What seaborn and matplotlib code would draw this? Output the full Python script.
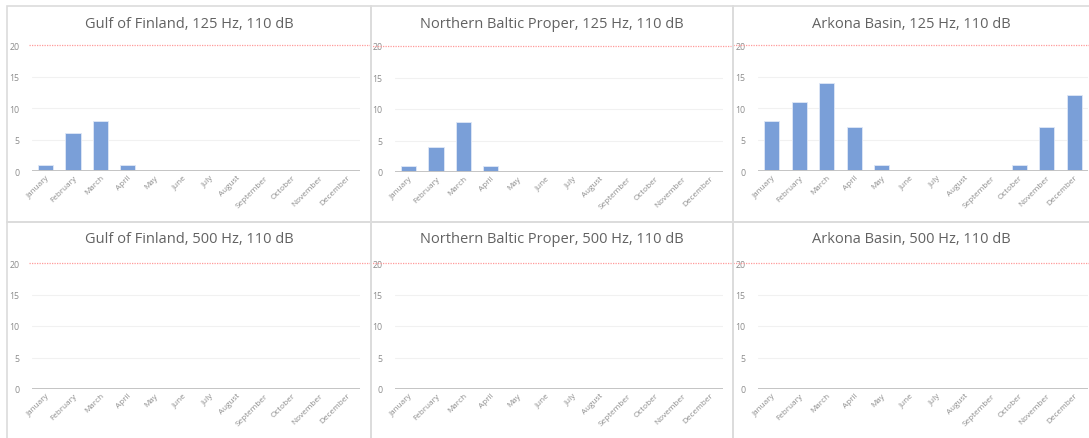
import pandas as pd
import matplotlib
matplotlib.use("Agg")
import matplotlib.pyplot as plt
import matplotlib.transforms as mtransforms
import seaborn as sns

# data
months = ["January", "February", "March", "April", "May", "June", "July",
          "August", "September", "October", "November", "December"]
gof_125 = [1, 6, 8, 1, 0, 0, 0, 0, 0, 0, 0, 0]
nbp_125 = [1, 4, 8, 1, 0, 0, 0, 0, 0, 0, 0, 0]
ark_125 = [8, 11, 14, 7, 1, 0, 0, 0, 0, 1, 7, 12]
gof_500 = [0] * 12
nbp_500 = [0] * 12
ark_500 = [0] * 12
threshold = 20
yticks = [0, 5, 10, 15, 20]

titles = ["Gulf of Finland, 125 Hz, 110 dB", "Northern Baltic Proper, 125 Hz, 110 dB",
          "Arkona Basin, 125 Hz, 110 dB", "Gulf of Finland, 500 Hz, 110 dB",
          "Northern Baltic Proper, 500 Hz, 110 dB", "Arkona Basin, 500 Hz, 110 dB"]
series = [gof_125, nbp_125, ark_125, gof_500, nbp_500, ark_500]

sns.set_theme(style="white")
plt.rcParams['font.family'] = ['Open Sans', 'DejaVu Sans']

W, H = 1089, 439
fig = plt.figure(figsize=(W / 100, H / 100), dpi=100)

# panel frames (pixels): left, top, right, bottom
frames = [(7, 7, 371, 223), (371, 7, 733, 223), (733, 7, 1095, 223),
          (7, 223, 371, 445), (371, 223, 733, 445), (733, 223, 1095, 445)]
# plot areas in pixels: x0, x1, y(0), y(20)
areas = [(32, 360, 172, 46), (395, 723, 173, 47), (758, 1088, 172, 46),
         (32, 360, 390, 264), (395, 723, 390, 264), (758, 1088, 390, 264)]
# red line extents in pixels
red_x = [(29, 370), (370, 731), (733, 1089)] * 2

border_col = "#dcdcdc"
text_col = "#626262"
tick_col = "#8c8c8c"

for i in range(6):
    l, t, r, b = frames[i]
    fig.add_artist(plt.Rectangle((l / W, 1 - b / H), (r - l) / W, (b - t) / H,
                                 transform=fig.transFigure, fill=False,
                                 edgecolor=border_col, linewidth=1.2))
    x0, x1, y0, y20 = areas[i]
    ax = fig.add_axes([x0 / W, 1 - y0 / H, (x1 - x0) / W, (y0 - y20) / H])
    df = pd.DataFrame({"month": months, "count": series[i]})
    sns.barplot(data=df, x="month", y="count", ax=ax, color="#7a9fd8",
                saturation=1, width=0.56, edgecolor="#dfe8f6", linewidth=0.6)
    ax.set_xlim(-0.5, 11.5)
    ax.set_ylim(0, threshold)
    ax.set_yticks(yticks)
    ax.set_xlabel("")
    ax.set_ylabel("")
    for y in yticks[1:-1]:
        ax.axhline(y, color="#f1f1f1", linewidth=0.8, zorder=0)
    ax.axhline(0, color="#c4c4c4", linewidth=1.4, zorder=3)
    for s in ax.spines.values():
        s.set_visible(False)
    ax.patch.set_alpha(0)
    ax.tick_params(axis="both", length=0, colors=tick_col)
    ax.tick_params(axis="y", pad=9, labelsize=6.3)
    ax.tick_params(axis="x", pad=2, labelsize=5.9)
    plt.setp(ax.get_xticklabels(), rotation=45, ha="right", rotation_mode="anchor")

    # dotted threshold line spanning the panel
    trans = mtransforms.blended_transform_factory(fig.transFigure, ax.transData)
    rx0, rx1 = red_x[i]
    ax.plot([rx0 / W, rx1 / W], [threshold, threshold], transform=trans,
            color="#ff9a9a", linestyle=(0, (1, 1)), linewidth=0.9, clip_on=False, zorder=4)

    cx = (l + min(r, W)) / 2
    fig.text(cx / W, 1 - (t + 17) / H, titles[i], ha="center", va="center",
             fontsize=10.5, color=text_col)

fig.savefig("out.png", dpi=100)
